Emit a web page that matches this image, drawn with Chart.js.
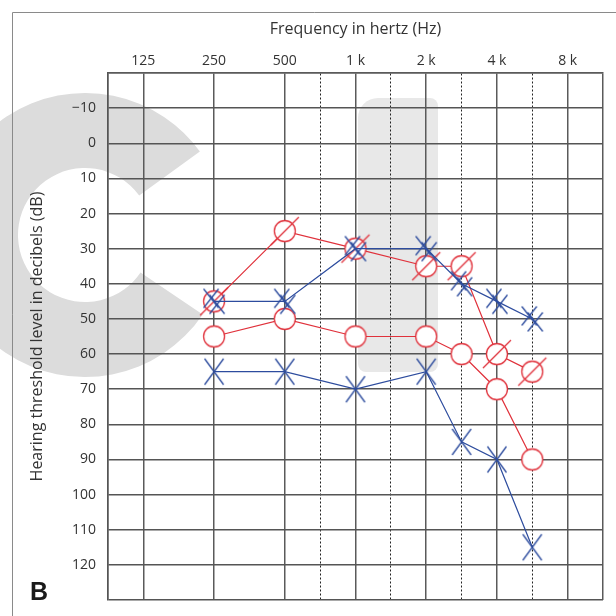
<!DOCTYPE html>
<html>
<head>
<meta charset="utf-8">
<script src="https://cdn.jsdelivr.net/npm/chart.js@4.4.0/dist/chart.umd.min.js"></script>
<style>
html, body { margin: 0; padding: 0; background: #ffffff; }
</style>
</head>
<body>
<canvas id="chart" width="616" height="616"></canvas>
<script>
// octave labels along the top, 125 Hz = position 0
const freqLabels = ["125", "250", "500", "1 k", "2 k", "4 k", "8 k"];
const gridPositions = [-0.5, 0, 1, 2, 2.5, 3, 3.5, 4, 4.5, 5, 5.5, 6, 6.5];

// tested frequencies (Hz)
const testFreqs = [250, 500, 1000, 2000, 3000, 4000, 6000];

// thresholds in dB HL
const redSlashed = [45, 25, 30, 35, 35, 60, 65];
const redOpen = [55, 50, 55, 55, 60, 70, 90];
const blueDouble = [45, 45, 30, 30, 40, 45, 50];
const blueSingle = [65, 65, 70, 65, 85, 90, 115];

const RED = "#e0313b";
const BLUE = "#2d4c9e";
const FONT = "'Open Sans', 'DejaVu Sans', sans-serif";

function freqPosition(f)
{
    // audiogram convention: 750, 1.5k, 3k, 6k sit halfway between octaves
    return Math.round(2 * Math.log2(f / 125)) / 2;
}

function toPoints(values)
{
    return testFreqs.map(
        (f, i) => ({ x: freqPosition(f), y: values[i] })
    );
}

function makeCircle(slashed)
{
    const c = document.createElement("canvas");
    c.width = 32;
    c.height = 32;
    const g = c.getContext("2d");

    g.beginPath();
    g.arc(16, 16, 10.5, 0, Math.PI * 2);
    g.fillStyle = "#ffffff";
    g.fill();
    g.lineWidth = 1.3;
    g.strokeStyle = RED;
    g.stroke();

    if(slashed)
    {
        g.beginPath();
        g.moveTo(2, 30);
        g.lineTo(30, 2);
        g.stroke();
    }

    return c;
}

function drawX(g, cx, cy, hw, hh)
{
    g.beginPath();
    g.moveTo(cx - hw, cy - hh);
    g.lineTo(cx + hw, cy + hh);
    g.moveTo(cx + hw, cy - hh);
    g.lineTo(cx - hw, cy + hh);
    g.stroke();
}

function makeCross(doubled)
{
    const c = document.createElement("canvas");
    c.width = 32;
    c.height = 32;
    const g = c.getContext("2d");
    g.lineWidth = 1.3;
    g.strokeStyle = BLUE;

    if(doubled)
    {
        drawX(g, 13, 13, 7.5, 9.5);
        drawX(g, 19, 19, 7.5, 9.5);
    }
    else
    {
        drawX(g, 16, 16, 9.5, 13);
    }

    return c;
}

function tickText(value)
{
    if(value === -20 || value === 130)
    {
        return "";
    }

    return value < 0 ? "\u2212" + Math.abs(value) : String(value);
}

const backdrop =
{
    id: "backdrop",
    beforeDraw(chart)
    {
        const ctx = chart.ctx;
        ctx.save();

        // faint watermark behind the grid
        ctx.fillStyle = "#dcdcdc";
        ctx.beginPath();
        ctx.arc(85, 235, 142, 34 * Math.PI / 180, -36 * Math.PI / 180, false);
        ctx.arc(85, 235, 67, -36 * Math.PI / 180, 34 * Math.PI / 180, true);
        ctx.closePath();
        ctx.fill();

        ctx.fillStyle = "#e8e8e8";
        ctx.beginPath();
        ctx.moveTo(378, 98);
        ctx.lineTo(430, 98);
        ctx.arcTo(438, 98, 438, 106, 8);
        ctx.lineTo(438, 364);
        ctx.arcTo(438, 372, 430, 372, 8);
        ctx.lineTo(366, 372);
        ctx.arcTo(358, 372, 358, 364, 8);
        ctx.lineTo(358, 118);
        ctx.arcTo(358, 98, 378, 98, 20);
        ctx.closePath();
        ctx.fill();

        // outer panel frame
        ctx.strokeStyle = "#8a8a8a";
        ctx.lineWidth = 1;
        ctx.beginPath();
        ctx.moveTo(12.5, 616);
        ctx.lineTo(12.5, 12.5);
        ctx.lineTo(616, 12.5);
        ctx.stroke();

        ctx.restore();
    },
    afterDraw(chart)
    {
        const ctx = chart.ctx;
        ctx.save();
        ctx.fillStyle = "#1a1a1a";
        ctx.font = "bold 25px 'Liberation Sans', Arial, sans-serif";
        ctx.textBaseline = "alphabetic";
        ctx.fillText("B", 30, 600);
        ctx.restore();
    }
};

const isHalf =
    v => Math.abs(v - Math.round(v)) > 0.01 && v > 0 && v < 6.5;

const datasets = [
    {
        data: toPoints(blueDouble),
        borderColor: BLUE,
        borderWidth: 1.2,
        pointStyle: makeCross(true),
        pointRadius: 10
    },
    {
        data: toPoints(blueSingle),
        borderColor: BLUE,
        borderWidth: 1.2,
        pointStyle: makeCross(false),
        pointRadius: 10
    },
    {
        data: toPoints(redSlashed),
        borderColor: RED,
        borderWidth: 1.2,
        pointStyle: makeCircle(true),
        pointRadius: 10
    },
    {
        data: toPoints(redOpen),
        borderColor: RED,
        borderWidth: 1.2,
        pointStyle: makeCircle(false),
        pointRadius: 10
    }
];

new Chart(
    document.getElementById("chart"),
    {
        type: "line",
        data: { datasets },
        plugins: [backdrop],
        options:
        {
            responsive: false,
            animation: false,
            layout: { padding: { left: 0, right: 13, top: 0, bottom: 16 } },
            plugins:
            {
                legend: { display: false },
                tooltip: { enabled: false }
            },
            elements: { line: { tension: 0 } },
            scales:
            {
                x:
                {
                    type: "linear",
                    position: "top",
                    min: -0.5,
                    max: 6.5,
                    afterBuildTicks: scale =>
                    {
                        scale.ticks = gridPositions.map(v => ({ value: v }));
                    },
                    afterFit: scale =>
                    {
                        scale.height = 73;
                        scale.paddingLeft = 0;
                        scale.paddingRight = 0;
                    },
                    ticks:
                    {
                        autoSkip: false,
                        maxRotation: 0,
                        padding: 4,
                        color: "#333333",
                        font: { family: FONT, size: 14 },
                        callback: v =>
                            (isHalf(v) || v < 0 || v > 6) ? "" : freqLabels[Math.round(v)]
                    },
                    grid:
                    {
                        drawTicks: false,
                        color: ctx =>
                            ctx.tick && isHalf(ctx.tick.value) ? "#222222" : "#5a5a5a",
                        lineWidth: ctx =>
                            ctx.tick && isHalf(ctx.tick.value) ? 1 : 1.5
                    },
                    border:
                    {
                        color: "#5a5a5a",
                        width: 1.5,
                        dash: ctx =>
                            ctx.tick && isHalf(ctx.tick.value) ? [2, 2] : []
                    },
                    title:
                    {
                        display: true,
                        text: "Frequency in hertz (Hz)",
                        color: "#333333",
                        font: { family: FONT, size: 16 },
                        padding: { top: 20, bottom: 0 }
                    }
                },
                y:
                {
                    type: "linear",
                    reverse: true,
                    min: -20,
                    max: 130,
                    afterFit: scale =>
                    {
                        scale.width = 108;
                        scale.paddingTop = 0;
                        scale.paddingBottom = 0;
                    },
                    ticks:
                    {
                        stepSize: 10,
                        padding: 12,
                        color: "#333333",
                        font: { family: FONT, size: 14 },
                        callback: v => tickText(v)
                    },
                    grid:
                    {
                        drawTicks: false,
                        color: "#555555",
                        lineWidth: 1.5
                    },
                    border:
                    {
                        color: "#555555",
                        width: 1.5
                    },
                    title:
                    {
                        display: true,
                        text: "Hearing threshold level in decibels (dB)",
                        color: "#333333",
                        font: { family: FONT, size: 16 },
                        padding: { top: 28, bottom: 0 }
                    }
                }
            }
        }
    }
);
</script>
</body>
</html>
